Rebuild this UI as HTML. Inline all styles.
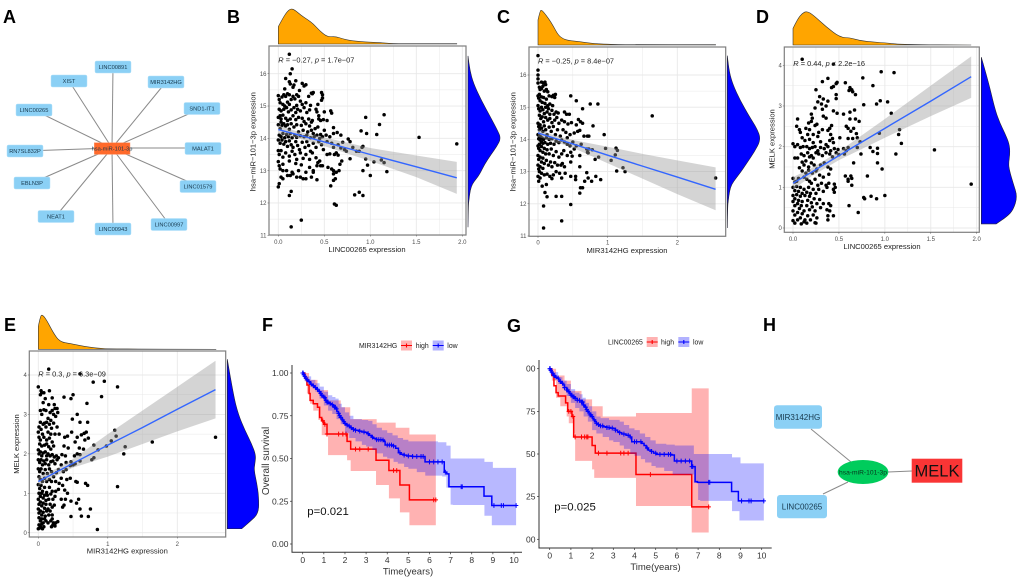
<!DOCTYPE html>
<html lang="en">
<head>
<meta charset="utf-8">
<title>miR-101-3p correlation and survival figure</title>
<style>
html,body{margin:0;padding:0;background:#fff;width:1020px;height:578px;overflow:hidden}
svg{display:block;font-family:"Liberation Sans",sans-serif;filter:blur(.3px)}
.letter{font-size:18px;font-weight:700;fill:#000}
.node{fill:#8bd0f5;stroke:#b5e2fa;stroke-width:.5}
.ntext{font-size:5.7px;fill:#17384d;text-anchor:middle}
.edge{stroke:#8a8a8a;stroke-width:1}
</style>
</head>
<body>
<svg id="figure" xmlns="http://www.w3.org/2000/svg" width="1020" height="578" viewBox="0 0 1020 578">
<rect x="0" y="0" width="1020" height="578" fill="#fff"/>
<text class="letter" x="3" y="23">A</text>
<text class="letter" x="227" y="23">B</text>
<text class="letter" x="497" y="23">C</text>
<text class="letter" x="756" y="23">D</text>
<text class="letter" x="4" y="331">E</text>
<text class="letter" x="262" y="331">F</text>
<text class="letter" x="507" y="332">G</text>
<text class="letter" x="763" y="331">H</text>

<g>
<g>
<line class="edge" x1="112" y1="148" x2="113" y2="67"/>
<line class="edge" x1="112" y1="148" x2="69" y2="81"/>
<line class="edge" x1="112" y1="148" x2="166" y2="82"/>
<line class="edge" x1="112" y1="148" x2="202" y2="108"/>
<line class="edge" x1="112" y1="148" x2="34" y2="110"/>
<line class="edge" x1="112" y1="148" x2="25" y2="151"/>
<line class="edge" x1="112" y1="148" x2="203" y2="148"/>
<line class="edge" x1="112" y1="148" x2="32" y2="183"/>
<line class="edge" x1="112" y1="148" x2="198" y2="186"/>
<line class="edge" x1="112" y1="148" x2="56" y2="216"/>
<line class="edge" x1="112" y1="148" x2="169" y2="224"/>
<line class="edge" x1="112" y1="148" x2="113" y2="229"/>
</g>
<g><rect class="node" x="95" y="61" width="36" height="12" rx="1.5"/><text class="ntext" x="113" y="69">LINC00891</text></g>
<g><rect class="node" x="51" y="75" width="36" height="12" rx="1.5"/><text class="ntext" x="69" y="83">XIST</text></g>
<g><rect class="node" x="148" y="76" width="36" height="12" rx="1.5"/><text class="ntext" x="166" y="84">MIR3142HG</text></g>
<g><rect class="node" x="184" y="102.5" width="36" height="12" rx="1.5"/><text class="ntext" x="202" y="110.5">SND1-IT1</text></g>
<g><rect class="node" x="16" y="104" width="36" height="12" rx="1.5"/><text class="ntext" x="34" y="112">LINC00265</text></g>
<g><rect class="node" x="7" y="145" width="36" height="12" rx="1.5"/><text class="ntext" x="25" y="153">RN7SL832P</text></g>
<g><rect class="node" x="185" y="142.5" width="36" height="12" rx="1.5"/><text class="ntext" x="203" y="150.5">MALAT1</text></g>
<g><rect class="node" x="14" y="177" width="36" height="12" rx="1.5"/><text class="ntext" x="32" y="185">EBLN3P</text></g>
<g><rect class="node" x="180" y="180.5" width="36" height="12" rx="1.5"/><text class="ntext" x="198" y="188.5">LINC01579</text></g>
<g><rect class="node" x="38" y="210.5" width="36" height="12" rx="1.5"/><text class="ntext" x="56" y="218.5">NEAT1</text></g>
<g><rect class="node" x="151" y="218.5" width="36" height="12" rx="1.5"/><text class="ntext" x="169" y="226.5">LINC00997</text></g>
<g><rect class="node" x="95" y="223" width="36" height="12" rx="1.5"/><text class="ntext" x="113" y="231">LINC00943</text></g>
<g><rect x="94.3" y="142.7" width="35.7" height="11.7" fill="#ff6a2b" stroke="#ff9a70" stroke-width=".5"/><text class="ntext" x="112" y="150.5">hsa-miR-101-3p</text></g>
</g>

<g>
<line class="edge" x1="811" y1="429" x2="851" y2="462"/>
<line class="edge" x1="823" y1="494" x2="848" y2="482"/>
<line class="edge" x1="888" y1="472" x2="912" y2="471"/>
<g><rect x="774" y="405.3" width="48" height="23.4" rx="3" fill="#8bd0f5"/><text x="798" y="420" font-size="8" text-anchor="middle" fill="#17384d">MIR3142HG</text></g>
<g><rect x="777" y="495" width="50" height="23.3" rx="3" fill="#8bd0f5"/><text x="802" y="509.5" font-size="8" text-anchor="middle" fill="#17384d">LINC00265</text></g>
<g><ellipse cx="863" cy="472" rx="25.3" ry="12" fill="#00cc5c"/><text x="863" y="474.5" font-size="6.7" text-anchor="middle" fill="#06351d">hsa-miR-101-3p</text></g>
<g><rect x="911.7" y="458.7" width="50.6" height="24" fill="#f93535"/><text x="937" y="476.5" font-size="16.5" text-anchor="middle" fill="#111">MELK</text></g>
</g>
</svg>

<script>
// ---------- scatter data ----------
const ticksMir = [11, 12, 13, 14, 15, 16];
const ticksMelk = [0, 1, 2, 3, 4];
const ticksLinc = ['0.0', '0.5', '1.0', '1.5', '2.0'];
const ticksHg = ['0', '1', '2'];

const pointsB = [[.12,16.6],[.13,16],[.15,16.15],[.08,15.85],[.12,15.75],[.13,15.68],[.19,15.78],[.17,15.65],[.26,15.7],[.28,15.62],[.3,15.66],[.07,15.53],[.16,15.58],[.23,15.48],
[0,15.32],[.01,15.2],[.02,15.1],[.04,15.28],[.06,15.35],[.08,15.3],[.1,15.38],[.12,15.35],[.14,15.2],[.16,15.3],[.18,15.22],[.2,15.35],[.22,15.3],[.24,15.15],[.33,15.3],[.36,15.4],[.37,15.38],[.38,15.42],[.47,15.42],[.48,15.35],[.48,15.25],[.47,15.18],[.3,15.1],[.26,15.05],[.12,15.05],[.05,15.05],[.07,15],[.1,15.12],[.35,15.02],[.43,15.05],[.2,15.02],
[.01,14.9],[.03,14.85],[.06,14.9],[.09,14.95],[.11,14.82],[.14,14.88],[.17,14.95],[.19,14.8],[.21,14.9],[.24,14.85],[.28,14.95],[.31,14.8],[.34,14.88],[.41,14.9],[.42,14.82],[.44,14.7],[.02,14.7],[0,14.65],[.03,14.6],[.05,14.72],[.08,14.62],[.1,14.55],[.13,14.6],[.16,14.7],[.19,14.58],[.22,14.65],[.26,14.62],[.28,14.52],[.33,14.6],[.37,14.55],[.44,14.6],[.46,14.55],[.49,14.58],[.03,14.5],[.36,14.5],
[0,14.42],[.02,14.3],[.04,14.4],[.06,14.45],[.08,14.38],[.1,14.42],[.12,14.28],[.14,14.45],[.17,14.35],[.2,14.42],[.22,14.2],[.25,14.4],[.27,14.25],[.3,14.45],[.32,14.2],[.34,14.38],[.36,14.25],[.38,14.15],[.4,14.3],[.43,14.35],[.46,14.12],[.5,14.25],[.52,14.1],[.56,14.05],[.6,14.15],[.64,14.18],[.68,14.1],[.01,14.1],[.03,14.05],[.05,14.15],[.07,14.02],[.09,14.12],[.11,14.05],[.13,14.15],[.15,14.02],[.18,14.1],[.2,14.03],[.24,14.08],[.28,14.05],[.31,14.1],[.35,14.02],[.39,14.05],[.42,14.1],[.45,14],[.48,14.05],
[0,13.95],[.02,13.85],[.04,13.95],[.06,13.82],[.08,13.9],[.1,13.75],[.12,13.92],[.14,13.8],[.16,13.72],[.19,13.9],[.21,13.78],[.23,13.65],[.26,13.88],[.29,13.72],[.31,13.9],[.33,13.78],[.35,13.6],[.38,13.85],[.41,13.72],[.44,13.9],[.47,13.8],[.49,13.65],[.53,13.9],[.58,13.85],[.6,13.72],[.65,13.8],[.7,13.88],[.72,13.65],[.74,13.6],[.76,13.98],[.78,13.9],[.81,13.72],[.85,13.6],[.68,13.7],[.63,13.55],[.56,13.52],[.53,13.5],
[0,13.62],[.01,13.5],[.03,13.62],[.05,13.42],[.08,13.55],[.12,13.45],[.15,13.6],[.18,13.5],[.2,13.35],[.24,13.55],[.27,13.38],[.3,13.5],[.34,13.35],[.37,13.55],[.41,13.4],[.43,13.25],[.45,13.3],[.65,13.48],[.61,13.5],[.78,13.37],[.69,13.3],[.67,13.2],
[0,13.28],[.01,13.15],[.02,13.05],[.05,13.2],[.09,13],[.12,13.3],[.15,12.95],[.19,13.22],[.22,13],[.25,13.18],[.3,12.95],[.34,13.1],[.38,13],[.42,13.15],[.46,13.15],[.48,13.15],[.54,13.1],[.6,13],[.6,12.9],[.63,12.95],[.66,13],[.58,13.05],[.62,12.75],[.6,12.7],[.1,12.85],[.13,12.85],[.16,12.9],[.2,12.8],[.24,12.8],[.27,12.75],[.3,12.75],[.36,12.8],[.38,12.95],[.42,12.72],[.05,12.75],[.03,12.8],[.05,13],
[0,12.5],[.01,12.6],[.14,12.36],[.12,12.23],[.25,11.47],[.14,11.26],[.57,12.53],[.61,11.97],[.63,11.93],[.83,12.25],[.88,12.33],[.92,12.23],[.57,14.85],[.58,14.78],[.6,14.33],[.53,14.55],[.5,14.82],
[1.94,13.83],[1.53,14.03],[1.15,14.73],[1.1,14.43],[.95,14.65],[.96,14.15],[1.07,14.12],[.9,14.23],[.92,13.75],[.91,13.72],[.88,13.6],[.95,13.36],[.97,13.17],[.92,13],[1,12.85],[1.04,13.27],[1.12,13.33],[1.15,13.25],[1.18,12.97]];

const pointsC = [[0,16.6],[0,16.15],[0,16],[0,15.88],[0,15.75],[.05,15.78],[.08,15.75],[.1,15.78],[.11,15.7],[.07,15.65],[.02,15.62],[.05,15.58],[.03,15.55],[.12,15.55],[.14,15.48],[.09,15.5],
[0,15.35],[.01,15.28],[.02,15.4],[.03,15.2],[.05,15.32],[.06,15.15],[.08,15.3],[.1,15.12],[.12,15.25],[.16,15.35],[.2,15.33],[.22,15.37],[.25,15.4],[.24,15.3],[.47,15.35],[.55,15.2],[.75,15.1],[.86,15.1],[.64,14.95],[.14,15.05],[.17,15.1],[.21,15.05],
[0,15.05],[.01,14.95],[.03,14.88],[.05,15],[.07,14.92],[.09,14.8],[.11,15],[.13,14.85],[.15,14.95],[.17,14.78],[.2,14.9],[.23,14.78],[.26,14.85],[.29,14.82],[.38,14.85],[.41,14.78],[.45,14.78],[.02,14.75],[.04,14.65],[.06,14.7],[.08,14.55],[.11,14.68],[.14,14.6],[.17,14.65],[.2,14.52],[.24,14.6],[.27,14.68],[.3,14.5],[.34,14.6],[.38,14.55],[.43,14.48],[.48,14.52],[.55,14.45],[.58,14.62],[.61,14.55],[.64,14.5],[.79,14.42],
[0,14.5],[.01,14.4],[.02,14.3],[.03,14.45],[.05,14.35],[.07,14.25],[.09,14.42],[.11,14.3],[.13,14.15],[.16,14.38],[.19,14.25],[.22,14.4],[.25,14.15],[.28,14.3],[.32,14.1],[.36,14.3],[.4,14.22],[.42,14.05],[.46,14.15],[.52,14.2],[.57,14.25],[.6,14.28],[.66,14.1],[.71,14.1],[.73,14.1],[.95,14.15],
[0,14.15],[.01,14.02],[.02,14.1],[.03,13.98],[.04,14.08],[.05,13.92],[.06,14.04],[.07,13.88],[.08,14],[.1,13.9],[.12,14.05],[.14,13.85],[.16,14],[.18,13.88],[.2,14.02],[.23,13.85],[.26,13.95],[.3,13.9],[.34,13.98],[.38,13.92],[.42,13.85],[.46,13.8],[.5,13.92],[.55,13.8],[.62,13.85],[.7,13.7],[.73,13.7],[.78,13.68],[.97,13.72],[1.12,13.73],[1.14,13.66],[1.11,13.52],[.71,13.6],[.72,13.58],
[0,13.8],[.01,13.72],[.02,13.85],[.03,13.65],[.05,13.78],[.07,13.6],[.09,13.72],[.11,13.55],[.13,13.68],[.16,13.55],[.19,13.7],[.22,13.5],[.26,13.62],[.3,13.45],[.34,13.55],[.37,13.65],[.42,13.5],[.47,13.6],[.52,13.7],[.6,13.5],[.87,13.45],[.82,13.38],[1.05,13.35],[.49,13.48],
[0,13.5],[.01,13.38],[.03,13.45],[.05,13.3],[.07,13.42],[.09,13.25],[.12,13.35],[.15,13.2],[.18,13.3],[.2,13.15],[.24,13.28],[.28,13.2],[.33,13.2],[.35,13.25],[.38,13.15],[.47,13.3],[.6,13.15],
[0,13.2],[.01,13.08],[.02,13],[.03,13.15],[.05,12.95],[.07,13.1],[.09,12.9],[.13,12.92],[.17,12.85],[.2,12.78],[.22,12.9],[.26,13],[.31,12.95],[.34,12.8],[.39,12.95],[.47,12.85],[.54,12.85],[.54,12.75],[.7,12.97],[.72,12.8],[.67,12.7],[.77,12.7],[.83,12.85],[.9,12.75],[1.13,13.02],[1.22,13.12],[1.25,13],
[0,12.85],[.01,12.7],[.03,12.8],[.06,12.55],[.1,12.35],[.12,12.6],[.13,12.22],[.26,12.23],[.34,12.23],[.6,12.33],[.61,12.5],[.64,12.5],[.47,11.98],[.08,11.93],[.34,11.47],[.08,11.25],[2.55,12.8],[1.64,14.73]];

const pointsD = [[.1,4.15],[.44,4.03],[.96,3.84],[1.1,3.82],[.76,3.69],[.38,3.68],[.32,3.6],[.48,3.58],[.47,3.55],[.57,3.57],[.87,3.5],[.44,3.48],[.25,3.4],[.62,3.45],[.61,3.38],[.64,3.4],[.65,3.35],[.42,3.45],[.29,3.23],[.47,3.28],[.68,3.28],[.47,3.18],[.33,3.17],[.95,3.13],[.91,3.05],[1.03,3.1],[.77,3.03],[.38,3.12],[.27,3.1],[.31,3.05],[.36,3],[.24,2.95],[.32,2.92],[.44,2.88],[.67,2.9],[.48,2.82],[.55,2.8],[.62,2.85],[1.07,2.82],[.2,2.8],[.21,2.7],[.33,2.75],[.36,2.7],[.05,2.68],[.62,2.68],[.68,2.68],[.72,2.62],[.2,2.62],[.17,2.58],[.26,2.55],[.24,2.52],[.42,2.52],[.4,2.45],[.58,2.5],[.6,2.45],[.66,2.45],[.63,2.38],[.69,2.32],[.38,2.4],[.32,2.42],[.18,2.42],[.14,2.45],[.04,2.5],[.07,2.42],[.08,2.35],[1.16,2.42],[.94,2.33],[1.15,2.3],[1.18,2.08],[.16,2.3],[.22,2.3],[.28,2.35],[.27,2.25],[.41,2.3],[.43,2.2],[.4,2.15],[.51,2.22],[.6,2.2],[.65,2.2],[.7,2.22],[.73,2.12],[.1,2.22],[.13,2.15],[.18,2.18],[.22,2.1],[.3,2.12],[.36,2.05],[.44,2.1],[0,2.07],[.02,2],[.05,2.05],[.08,1.98],[.11,2],[.15,2],[.18,1.95],[.21,1.98],[.24,2],[.27,1.9],[.3,1.98],[.34,1.95],[.38,2],[.41,1.9],[.45,1.95],[.49,1.93],[.55,1.95],[.58,1.9],[.6,1.98],[.7,1.98],[.84,1.98],[.92,1.96],[.87,1.88],[.92,1.83],[.74,1.82],[1.12,1.82],[1.54,1.92],[.02,1.72],[.05,1.72],[.09,1.82],[.12,1.78],[.16,1.85],[.18,1.75],[.2,1.78],[.22,1.72],[.25,1.85],[.28,1.82],[.32,1.78],[.36,1.85],[.4,1.82],[.43,1.75],[.47,1.85],[.5,1.8],[.56,1.82],[.66,1.6],[.92,1.6],[.97,1.45],[.1,1.62],[.12,1.55],[.14,1.65],[.17,1.5],[.2,1.6],[.23,1.55],[.26,1.45],[.3,1.55],[.34,1.6],[.38,1.5],[.41,1.45],[.07,1.48],[.1,1.4],[.14,1.35],[.17,1.42],[.21,1.35],[.25,1.4],[.29,1.3],[.33,1.25],[.39,1.32],[.57,1.28],[.63,1.28],[.6,1.2],[.64,1.22],[.6,1.15],[.81,1.28],[0,1.22],[.02,1.13],[.04,1.15],[.06,1.22],[.12,1.25],[.15,1.2],[.18,1.15],[.2,1.1],[.24,1.2],[.27,1.05],[.31,1.1],[.36,1.05],[.39,1.1],[.45,1.08],[.46,1],[.64,1.05],[1.94,1.08],[0,1],[.02,.92],[.04,1.02],[.06,.9],[.08,1],[.1,.85],[.12,.95],[.15,.88],[.17,1],[.19,.85],[.22,.95],[.25,.85],[.28,.95],[.33,.9],[.37,1],[.44,.95],[.45,.88],[0,.8],[.02,.72],[.04,.82],[.06,.68],[.08,.78],[.1,.65],[.13,.8],[.16,.68],[.18,.78],[.2,.62],[.23,.72],[.26,.6],[.29,.7],[.33,.6],[.39,.6],[.41,.55],[.78,.72],[.77,.75],[.85,.78],[.91,.72],[1,.8],[0,.65],[.02,.55],[.05,.6],[.07,.48],[.09,.55],[.12,.42],[.15,.55],[.18,.45],[.21,.52],[.24,.42],[.3,.5],[.37,.45],[.4,.42],[.61,.55],[.71,.38],[0,.42],[.02,.32],[.05,.38],[.08,.25],[.1,.35],[.13,.2],[.16,.3],[.19,.2],[.22,.32],[.26,.25],[.38,.3],[.38,.2],[.44,.3],[0,.18],[.02,.12],[.05,.2],[.09,.1],[.12,.15],[.15,.12],[.24,.13],[.25,.12]];

const pointsE = [[.15,4.15],[.6,4.03],[.95,3.84],[.79,3.82],[1.14,3.7],[0,3.7],[.04,3.6],[.05,3.55],[.16,3.6],[.03,3.5],[.08,3.55],[.5,3.5],[.37,3.44],[.47,3.4],[.91,3.45],[.1,3.4],[.2,3.42],[.7,3.28],[.23,3.25],[.07,3.3],[.15,3.25],[.08,3.12],[.03,3.1],[.11,3.1],[.24,3.15],[.27,3.15],[.2,3.1],[.28,3.05],[.17,3.05],[.22,3],[.56,3],[.25,2.95],[.05,3],[.49,2.88],[.14,2.9],[.18,2.85],[.12,2.8],[.03,2.8],[.07,2.75],[.09,2.78],[.16,2.75],[.22,2.78],[.6,2.8],[.71,2.8],[.01,2.68],[.04,2.62],[.11,2.68],[.19,2.65],[.27,2.68],[.48,2.55],[0,2.55],[.06,2.5],[.14,2.55],[.18,2.5],[.24,2.5],[.3,2.5],[.56,2.42],[.62,2.48],[.66,2.52],[.69,2.55],[.72,2.4],[1.1,2.6],[1.12,2.45],[.01,2.42],[.03,2.35],[.08,2.42],[.12,2.35],[.16,2.4],[.2,2.3],[.38,2.42],[.42,2.45],[.53,2.3],[.67,2.35],[.8,2.22],[.98,2.2],[1.05,2.33],[1.25,2.18],[2.55,2.42],[1.64,2.3],[.02,2.25],[.05,2.2],[.09,2.22],[.12,2.25],[.15,2.18],[.18,2.12],[.22,2.2],[.37,2.2],[.43,2.15],[.59,2.15],[.65,2.12],[.86,2.1],[0,2.1],[.01,2],[.03,2.05],[.05,1.95],[.07,2.02],[.1,2.05],[.12,1.95],[.14,2],[.17,1.95],[.2,1.98],[.23,1.92],[.26,1.95],[.29,1.9],[.34,1.98],[.39,1.95],[.47,1.8],[.52,1.95],[.56,2],[.6,1.98],[.77,1.85],[.8,1.9],[1.23,2],[0,1.85],[.02,1.78],[.04,1.85],[.06,1.72],[.08,1.82],[.1,1.75],[.12,1.85],[.15,1.72],[.18,1.8],[.21,1.82],[.24,1.75],[.27,1.85],[.33,1.72],[.4,1.78],[.46,1.7],[.5,1.72],[.53,1.75],[.6,1.82],[0,1.62],[.02,1.55],[.04,1.62],[.07,1.5],[.1,1.6],[.13,1.5],[.16,1.62],[.19,1.55],[.22,1.42],[.26,1.52],[.29,1.6],[.36,1.55],[.4,1.6],[.01,1.42],[.03,1.35],[.06,1.3],[.09,1.38],[.12,1.3],[.16,1.35],[.19,1.3],[.25,1.3],[.3,1.25],[.33,1.38],[.41,1.35],[.46,1.38],[.54,1.3],[.56,1.28],[.68,1.25],[.71,1.2],[1.14,1.17],[0,1.22],[.02,1.12],[.04,1.2],[.06,1.05],[.09,1.15],[.12,1.02],[.16,1.15],[.2,1.05],[.25,1.05],[.29,1.1],[.35,1.2],[.38,1.08],[.42,1],[.01,1],[.03,.92],[.05,1],[.07,.88],[.09,.95],[.11,.82],[.13,.95],[.15,.85],[.18,.98],[.21,.85],[.24,.92],[.33,.85],[.39,.85],[.47,.8],[.55,.75],[.58,.85],[0,.85],[.01,.72],[.03,.78],[.05,.68],[.07,.75],[.09,.62],[.11,.72],[.14,.6],[.17,.72],[.2,.65],[.23,.7],[.35,.65],[.37,.7],[.6,.6],[.75,.6],[0,.6],[.01,.5],[.03,.55],[.05,.45],[.07,.52],[.1,.42],[.12,.55],[.15,.45],[.17,.55],[.2,.45],[.47,.41],[.62,.42],[.72,.41],[.01,.38],[.03,.3],[.05,.35],[.07,.25],[.09,.35],[.11,.3],[.14,.25],[.18,.3],[.2,.35],[.22,.25],[.25,.25],[.28,.28],[.01,.2],[.03,.15],[.05,.22],[.08,.15],[.19,.15],[.21,.2],[.24,.17],[0,.1],[.02,.12],[.06,.1],[.85,.08]];

// ---------- regression fits ----------
const fitXB = [0, .2, .5, 1, 1.5, 1.94];
const fitYB = [14.27, 14.12, 13.89, 13.5, 13.12, 12.78];
const fitUpB = [14.4, 14.22, 14.03, 13.7, 13.47, 13.27];
const fitLoB = [14.14, 14.02, 13.76, 13.3, 12.8, 12.28];
const fitXC = [0, .2, .5, 1, 1.5, 2, 2.55];
const fitYC = [14.2, 14.06, 13.86, 13.51, 13.17, 12.83, 12.45];
const fitUpC = [14.32, 14.15, 13.98, 13.77, 13.55, 13.35, 13.13];
const fitLoC = [14.08, 13.96, 13.74, 13.26, 12.78, 12.3, 11.8];
const fitXD = [0, .2, .5, 1, 1.5, 1.94];
const fitYD = [1.1, 1.37, 1.78, 2.45, 3.12, 3.72];
const fitUpD = [1.25, 1.47, 1.88, 2.68, 3.5, 4.22];
const fitLoD = [.95, 1.27, 1.67, 2.22, 2.75, 3.2];
const fitXE = [0, .25, .5, 1, 1.5, 2, 2.55];
const fitYE = [1.3, 1.53, 1.76, 2.22, 2.67, 3.13, 3.63];
const fitUpE = [1.42, 1.62, 1.87, 2.5, 3.1, 3.7, 4.36];
const fitLoE = [1.18, 1.44, 1.65, 1.93, 2.25, 2.57, 2.9];

// ---------- marginal densities (value, relative height) ----------
const topDensB = [[0,.5],[.05,.75],[.1,.95],[.14,1.02],[.18,.98],[.25,.82],[.32,.7],[.38,.58],[.45,.38],[.52,.23],[.57,.21],[.63,.21],[.7,.15],[.78,.1],[.9,.07],[1,.05],[1.12,.04],[1.25,.01],[1.6,.01],[1.94,.01]];
const rightDensB = [[11.25,0],[11.9,.01],[12.1,.03],[12.4,.07],[12.6,.14],[12.75,.26],[12.9,.37],[13.2,.52],[13.5,.72],[13.75,.9],[14,1.03],[14.25,.92],[14.66,.7],[15.17,.42],[15.7,.17],[16.1,.06],[16.55,0]];
const topDensC = [[0,.73],[.03,1],[.05,1.02],[.08,.96],[.15,.78],[.22,.55],[.29,.29],[.36,.18],[.44,.13],[.6,.1],[.75,.05],[1,.02],[1.3,.01],[2.55,.01]];
const rightDensC = [[11.25,0],[11.9,.01],[12.1,.03],[12.4,.07],[12.6,.13],[12.8,.27],[13,.42],[13.3,.62],[13.6,.82],[14,1.03],[14.35,.9],[14.7,.68],[15.2,.4],[15.7,.17],[16.1,.06],[16.6,0]];
const topDensD = [[0,.5],[.05,.78],[.1,.95],[.15,1.02],[.22,.9],[.36,.55],[.51,.23],[.62,.22],[.73,.13],[.87,.09],[1.02,.06],[1.2,.01],[1.94,0]];
const rightDensD = [[4.2,0],[3.6,.2],[2.9,.39],[2.57,.53],[2.32,.67],[2.07,.79],[1.84,.81],[1.59,.77],[1.43,.79],[1.1,.9],[.77,1.02],[.44,.9],[.28,.72],[.1,.42]];
const topDensE = [[0,.67],[.03,.98],[.06,1.02],[.12,.86],[.22,.47],[.31,.22],[.46,.17],[.6,.11],[.84,.03],[1.08,.01],[2.56,0]];
const rightDensE = [[4.4,0],[3.5,.19],[3,.35],[2.6,.56],[2.26,.77],[1.97,.91],[1.76,.88],[1.59,.85],[1.25,.94],[.92,1],[.49,1],[.28,.72],[.1,.46]];

// ---------- survival data ----------
const survTicks = [1, .75, .5, .25, 0];
const survLabelsF = ['1.00', '0.75', '0.50', '0.25', '0.00'];
const survLabelsG = ['00', '75', '50', '25', '00'];
const timeTicks = [0, 1, 2, 3, 4, 5, 6, 7, 8, 9, 10];

const fHighT = [0, .1, .2, .3, .35, .5, .7, .8, .9, 1, 1.15, 2.1, 2.27, 3.47, 4.08, 4.6, 5.05, 6.3];
const fHighS = [1, .97, .93, .88, .84, .82, .8, .74, .72, .7, .643, .6, .555, .49, .43, .345, .258, .258];
const fHighUpT = [0, .3, .7, 1.2, 1.8, 2.25, 3.5, 4.4, 5.05, 6.3];
const fHighUpS = [1, .96, .9, .84, .8, .73, .71, .68, .64, .595];
const fHighLoT = [0, .1, .2, .35, .5, .74, .9, 1.2, 2.1, 2.27, 3.47, 4.08, 4.6, 5.05, 6.3];
const fHighLoS = [1, .95, .88, .82, .78, .725, .637, .52, .49, .427, .345, .267, .185, .11, .11];
const fHighCens = [.95, 1.05, 1.15, 1.7, 1.9, 2.05, 2.5, 2.7, 3.1, 4.3, 4.45, 6.2, 6.3];

const fLowT = [0,.04,.08,.13,.19,.25,.32,.38,.43,.5,.56,.62,.66,.72,.78,.84,.9,.96,1.02,1.08,1.14,1.22,1.3,1.38,1.45,1.5,1.56,1.62,1.69,1.74,1.8,1.86,1.92,1.98,2.04,2.1,2.16,2.24,2.32,2.4,2.5,2.65,2.8,2.95,3.05,3.15,3.25,3.34,3.5,3.74,3.85,3.9,4.29,4.4,4.53,4.65,4.8,4.92,5.2,5.79,6.7,6.82,6.92,7,8.58,8.95,10.1];
const fLowS = [1,.99,.98,.97,.96,.95,.945,.935,.93,.925,.915,.91,.905,.895,.89,.88,.87,.86,.855,.84,.83,.825,.82,.815,.807,.8,.79,.775,.764,.75,.74,.725,.715,.705,.7,.695,.69,.68,.675,.67,.665,.66,.655,.653,.645,.635,.625,.618,.61,.608,.6,.579,.573,.56,.534,.525,.52,.515,.512,.48,.42,.41,.335,.335,.28,.225,.225];
const fLowUpT = [0,.2,.4,.6,.8,1,1.2,1.4,1.55,1.7,1.85,2,2.2,2.4,2.8,3.1,3.3,3.5,3.75,4,4.25,4.5,4.75,5,5.5,6.4,6.8,7,8.6,9,10.1];
const fLowUpS = [1,.98,.96,.94,.92,.89,.87,.86,.85,.82,.8,.77,.75,.73,.725,.72,.7,.68,.665,.65,.635,.62,.61,.6,.6,.595,.575,.5,.48,.445,.445];
const fLowLoT = [0,.2,.4,.6,.8,1,1.2,1.4,1.6,1.8,2,2.2,2.5,2.8,3,3.3,3.5,3.8,4,4.3,4.5,4.8,5,5.4,5.8,6.6,6.8,7,7.1,8.6,8.95,10.1];
const fLowLoS = [1,.95,.92,.89,.85,.81,.78,.76,.73,.7,.65,.62,.6,.58,.57,.55,.53,.51,.5,.48,.47,.45,.44,.42,.4,.395,.33,.23,.228,.165,.11,.11];
const fLowCens = [0,.02,.05,.1,.15,.2,.3,.4,.5,.6,.7,.8,.85,.9,1,1.05,1.1,1.15,1.2,1.3,1.4,1.5,1.55,1.6,1.7,1.75,1.8,1.9,1.95,2,2.1,2.2,2.3,2.4,2.5,2.7,2.9,3.1,3.3,3.5,3.6,3.7,3.8,4,4.1,4.2,4.3,4.6,4.8,5,5.2,5.4,5.6,5.7,6,6.2,6.4,6.6,6.75,7.5,7.55,9.05,9.4,9.5,10.1];

const gHighT = [0, .1, .2, .3, .4, .75, .85, 1.05, 1.13, 2, 2.15, 4.07, 6.7, 7.5];
const gHighS = [1, .96, .9, .86, .84, .8, .75, .72, .6, .55, .505, .38, .19, .19];
const gHighUpT = [0, .3, .7, 1, 1.5, 2, 2.5, 4.07, 6.7, 7.5];
const gHighUpS = [1, .96, .93, .87, .82, .78, .72, .74, .885, .885];
const gHighLoT = [0, .1, .3, .5, .8, .9, 1.1, 1.2, 2, 2.1, 4.07, 6.7, 7.5];
const gHighLoS = [1, .93, .83, .78, .72, .68, .62, .46, .41, .36, .195, .04, .04];
const gHighCens = [.9, 1, 1.1, 1.2, 1.5, 1.65, 1.75, 1.8, 2.3, 2.7, 3.35, 3.5, 3.7, 4.75, 7.5];

const gLowT = [0,.04,.08,.13,.19,.25,.32,.41,.48,.55,.62,.7,.8,.86,.94,1,1.08,1.2,1.3,1.42,1.59,1.65,1.72,1.78,1.84,1.9,1.96,2.02,2.08,2.14,2.2,2.28,2.36,2.53,2.7,2.85,3,3.1,3.2,3.3,3.4,3.6,3.79,3.87,4.34,4.45,4.55,4.65,4.8,4.9,5.05,5.75,5.88,6.7,6.86,6.97,8.58,8.9,10.1];
const gLowS = [1,.99,.98,.97,.96,.95,.945,.934,.925,.915,.905,.89,.875,.865,.855,.845,.835,.826,.815,.805,.787,.775,.76,.75,.74,.729,.72,.71,.7,.69,.68,.672,.665,.66,.655,.652,.65,.64,.63,.625,.617,.61,.6,.572,.5625,.55,.535,.523,.515,.505,.498,.494,.459,.426,.338,.334,.28,.225,.225];
const gLowUpT = [0,.2,.4,.6,.8,1,1.2,1.4,1.55,1.7,1.85,2,2.2,2.4,2.8,3.1,3.3,3.5,3.75,4,4.25,4.5,4.75,5,5.5,5.9,6.8,7,8.6,9,10.1];
const gLowUpS = [1,.98,.95,.93,.91,.88,.86,.85,.83,.8,.78,.75,.72,.71,.7,.7,.69,.67,.65,.64,.62,.6,.58,.56,.555,.55,.5,.5,.48,.445,.445];
const gLowLoT = [0,.2,.4,.6,.8,1,1.2,1.4,1.6,1.8,2,2.2,2.5,2.8,3,3.3,3.5,3.8,4,4.3,4.5,4.8,5,5.4,5.8,6.8,7,7.1,8.6,8.95,10.1];
const gLowLoS = [1,.95,.91,.88,.84,.8,.77,.75,.72,.69,.64,.62,.6,.58,.57,.55,.53,.5,.49,.47,.45,.43,.42,.4,.38,.33,.23,.225,.165,.11,.11];
const gLowCens = [0,.02,.05,.1,.15,.2,.3,.4,.5,.6,.7,.8,.85,.9,1,1.05,1.1,1.15,1.2,1.3,1.4,1.5,1.55,1.6,1.7,1.75,1.8,1.9,1.95,2,2.1,2.2,2.3,2.4,2.5,2.7,2.8,2.95,3.1,3.3,3.5,3.7,3.8,4,4.1,4.3,4.6,4.8,5,5.2,5.4,5.6,5.7,6,6.2,6.4,6.6,6.7,6.75,7.5,7.55,9.05,9.4,9.5,10.1];

// ---------- helpers ----------
const NS = 'http://www.w3.org/2000/svg';
const root = document.getElementById('figure');
function add(parent, tag, attrs, text) {
  const el = document.createElementNS(NS, tag);
  for (const k in attrs) el.setAttribute(k, attrs[k]);
  if (text !== undefined) el.textContent = text;
  parent.appendChild(el);
  return el;
}
function scale(d0, d1, p0, p1) {
  return v => p0 + (v - d0) * (p1 - p0) / (d1 - d0);
}
function line(arr) {
  return arr.map((q, i) => (i ? 'L' : 'M') + q[0].toFixed(2) + ' ' + q[1].toFixed(2)).join('');
}
function smooth(arr) {
  let d = 'M' + arr[0][0].toFixed(2) + ' ' + arr[0][1].toFixed(2);
  for (let i = 1; i < arr.length - 1; i++) {
    const mx = (arr[i][0] + arr[i + 1][0]) / 2, my = (arr[i][1] + arr[i + 1][1]) / 2;
    d += 'Q' + arr[i][0].toFixed(2) + ' ' + arr[i][1].toFixed(2) + ' ' + mx.toFixed(2) + ' ' + my.toFixed(2);
  }
  const e = arr[arr.length - 1];
  return d + 'L' + e[0].toFixed(2) + ' ' + e[1].toFixed(2);
}

// ---------- scatter panels ----------
function drawScatter(p) {
  const x = p.x, y = p.y;
  const g = add(root, 'g', {});
  
  

  // top density
  const topPts = p.topDens.map(d => [x(d[0]), p.topBase - d[1] * p.topH]);
  const last = p.topDens[p.topDens.length - 1][0], first = p.topDens[0][0];
  const top = add(g, 'path', {d: smooth(topPts) + 'L' + x(last) + ' ' + p.topBase + 'L' + x(first) + ' ' + p.topBase + 'Z', fill: '#ffa500', stroke: '#333', 'stroke-width': .6});
  
  

  // right density
  const rPts = p.rightDens.map(d => [p.rightBase + d[1] * p.rightW, y(d[0])]);
  const rFirst = y(p.rightDens[0][0]), rLast = y(p.rightDens[p.rightDens.length - 1][0]);
  const right = add(g, 'path', {d: smooth(rPts) + 'L' + p.rightBase + ' ' + rLast + 'L' + p.rightBase + ' ' + rFirst + 'Z', fill: '#0000ff', stroke: '#223', 'stroke-width': .6});
  
  

  // panel + grid
  const b = p.box;
  const bg = add(g, 'rect', {x: b[0], y: b[1], width: b[2] - b[0], height: b[3] - b[1], fill: '#fff'});
  
  
  const xv = p.xTicks.map(Number), yv = p.yTicks;
  function grid(x1, y1, x2, y2, w) {
    const l = add(g, 'line', {x1: x1, y1: y1, x2: x2, y2: y2, stroke: '#e8e8e8', 'stroke-width': w});
    
    
  }
  xv.forEach((v, i) => {
    grid(x(v), b[1], x(v), b[3], .9);
    if (i) grid(x((v + xv[i - 1]) / 2), b[1], x((v + xv[i - 1]) / 2), b[3], .5);
  });
  yv.forEach((v, i) => {
    grid(b[0], y(v), b[2], y(v), .9);
    if (i) grid(b[0], y((v + yv[i - 1]) / 2), b[2], y((v + yv[i - 1]) / 2), .5);
  });

  // points
  p.points.forEach(q => {
    const c = add(g, 'circle', {cx: x(q[0]).toFixed(2), cy: y(q[1]).toFixed(2), r: 1.75, fill: '#000'});
    
    
  });

  // confidence band + fit
  const up = p.fitX.map((v, i) => [x(v), y(p.fitUp[i])]);
  const lo = p.fitX.map((v, i) => [x(v), y(p.fitLo[i])]).reverse();
  const band = add(g, 'path', {d: line(up.concat(lo)) + 'Z', fill: '#999', 'fill-opacity': .42});
  
  
  const fit = add(g, 'path', {d: line(p.fitX.map((v, i) => [x(v), y(p.fitY[i])])), fill: 'none', stroke: '#3366ff', 'stroke-width': 1.4});
  
  

  // border
  const border = add(g, 'rect', {x: b[0], y: b[1], width: b[2] - b[0], height: b[3] - b[1], fill: 'none', stroke: '#7f7f7f', 'stroke-width': 1.2});
  
  

  // ticks
  p.xTicks.forEach(t => {
    const m = add(g, 'line', {x1: x(+t), x2: x(+t), y1: b[3], y2: b[3] + 1.5, stroke: '#555', 'stroke-width': .5});
    
    
    const l = add(g, 'text', {x: x(+t), y: p.xTickY, 'font-size': 6, fill: '#4d4d4d', 'text-anchor': 'middle'}, t);
    
    
  });
  p.yTicks.forEach(t => {
    const m = add(g, 'line', {x1: b[0] - 1.5, x2: b[0], y1: y(t), y2: y(t), stroke: '#555', 'stroke-width': .5});
    
    
    const l = add(g, 'text', {x: b[0] - 2.5, y: y(t) + 2.1, 'font-size': 6, fill: '#4d4d4d', 'text-anchor': 'end'}, t);
    
    
  });

  // titles
  const xt = add(g, 'text', {x: p.xTitlePos[0], y: p.xTitlePos[1], 'font-size': 7.6, fill: '#222', 'text-anchor': 'middle'}, p.xTitle);
  
  
  const yt = add(g, 'text', {transform: 'translate(' + p.yTitlePos[0] + ' ' + p.yTitlePos[1] + ') rotate(-90)', 'font-size': 7.6, fill: '#222', 'text-anchor': 'middle'}, p.yTitle);
  
  

  // annotation
  const an = add(g, 'text', {x: p.annPos[0], y: p.annPos[1], 'font-size': 7.4, fill: '#222'});
  
  
  add(an, 'tspan', {'font-style': 'italic'}, 'R');
  add(an, 'tspan', {}, ' = ' + p.r + ', ');
  add(an, 'tspan', {'font-style': 'italic'}, 'p');
  add(an, 'tspan', {}, ' ' + p.pText);
}

drawScatter({id: 'b', x: scale(0, 2, 278.3, 462.3), y: scale(11, 16, 235.3, 73.7), box: [269, 46, 466, 235], points: pointsB, fitX: fitXB, fitY: fitYB, fitUp: fitUpB, fitLo: fitLoB, topDens: topDensB, rightDens: rightDensB, topBase: 44, topH: 34.7, rightBase: 468, rightW: 32, xTicks: ticksLinc, yTicks: ticksMir, xTickY: 244, xTitle: 'LINC00265 expression', yTitle: 'hsa\u2212miR\u2212101\u22123p expression', xTitlePos: [367, 252], yTitlePos: [255.5, 141.7], r: '\u22120.27', pText: '= 1.7e\u221207', annPos: [278.3, 62.7]});
drawScatter({id: 'c', x: scale(0, 2, 538, 677.3), y: scale(11, 16, 236, 75), box: [529, 47, 725.7, 236.3], points: pointsC, fitX: fitXC, fitY: fitYC, fitUp: fitUpC, fitLo: fitLoC, topDens: topDensC, rightDens: rightDensC, topBase: 45, topH: 34.3, rightBase: 727.3, rightW: 32.7, xTicks: ticksHg, yTicks: ticksMir, xTickY: 244.5, xTitle: 'MIR3142HG expression', yTitle: 'hsa\u2212miR\u2212101\u22123p expression', xTitlePos: [627, 253], yTitlePos: [515.5, 141.7], r: '\u22120.25', pText: '= 8.4e\u221207', annPos: [538, 63.3]});
drawScatter({id: 'd', x: scale(0, 2, 793, 976.7), y: scale(0, 4, 228, 65.3), box: [784.3, 47, 979.3, 232.3], points: pointsD, fitX: fitXD, fitY: fitYD, fitUp: fitUpD, fitLo: fitLoD, topDens: topDensD, rightDens: rightDensD, topBase: 45, topH: 33.3, rightBase: 981.3, rightW: 35.4, xTicks: ticksLinc, yTicks: ticksMelk, xTickY: 241, xTitle: 'LINC00265 expression', yTitle: 'MELK expression', xTitlePos: [882, 249], yTitlePos: [774.5, 139], r: '0.44', pText: '< 2.2e\u221216', annPos: [793.3, 66]});
drawScatter({id: 'e', x: scale(0, 2, 38.3, 177.3), y: scale(0, 4, 532.7, 375), box: [29.3, 351, 225.7, 537], points: pointsE, fitX: fitXE, fitY: fitYE, fitUp: fitUpE, fitLo: fitLoE, topDens: topDensE, rightDens: rightDensE, topBase: 349.3, topH: 34, rightBase: 227.3, rightW: 31.4, xTicks: ticksHg, yTicks: ticksMelk, xTickY: 546, xTitle: 'MIR3142HG expression', yTitle: 'MELK expression', xTitlePos: [127.3, 553.5], yTitlePos: [19, 444], r: '0.3', pText: '= 6.3e\u221209', annPos: [38.3, 376.7]});

// ---------- survival panels ----------
function stepPts(ts, ss, x, y) {
  const out = [];
  ts.forEach((t, i) => {
    if (i) out.push([x(t), y(ss[i - 1])]);
    out.push([x(t), y(ss[i])]);
  });
  return out;
}
function survAt(ts, ss, t) {
  let s = ss[0];
  for (let i = 0; i < ts.length; i++) if (ts[i] <= t) s = ss[i];
  return s;
}
function drawCurve(g, x, y, c, color, fill, id) {
  const up = stepPts(c.upT, c.upS, x, y);
  const lo = stepPts(c.loT, c.loS, x, y).reverse();
  const band = add(g, 'path', {d: line(up.concat(lo)) + 'Z', fill: fill});
  
  
  const l = add(g, 'path', {d: line(stepPts(c.t, c.s, x, y)), fill: 'none', stroke: color, 'stroke-width': 1.5});
  
  
  c.cens.forEach(t => {
    const px = x(t), py = y(survAt(c.t, c.s, t));
    const m = add(g, 'path', {d: 'M' + (px - 2.2) + ' ' + py + 'h4.4M' + px + ' ' + (py - 2.4) + 'v4.8', stroke: color, 'stroke-width': 1, fill: 'none'});
    
    
  });
}
function drawSurvival(p) {
  const x = p.x, y = p.y;
  const g = add(root, 'g', {});
  
  

  // legend
  const lt = add(g, 'text', {x: p.legend[0], y: p.legend[1] + 2.4, 'font-size': 6.9, fill: '#222'}, p.legendTitle);
  
  
  [['high', '#ff0000', 'rgba(255,0,0,.3)', p.legend[2], p.legend[3]], ['low', '#0000ff', 'rgba(0,0,255,.3)', p.legend[4], p.legend[5]]].forEach(e => {
    const k = add(g, 'rect', {x: e[3], y: p.legend[1] - 5, width: 11, height: 10, fill: e[2]});
    
    
    const kl = add(g, 'path', {d: 'M' + e[3] + ' ' + p.legend[1] + 'h11M' + (e[3] + 5.5) + ' ' + (p.legend[1] - 2) + 'v4', stroke: e[1], 'stroke-width': 1.1});
    
    
    const tx = add(g, 'text', {x: e[4], y: p.legend[1] + 2.4, 'font-size': 6.9, fill: '#222'}, e[0]);
    
    
  });

  drawCurve(g, x, y, p.high, '#ff0000', 'rgba(255,0,0,.3)', 'high');
  drawCurve(g, x, y, p.low, '#0000ff', 'rgba(0,0,255,.28)', 'low');

  // axes
  const ax = add(g, 'path', {d: 'M' + p.axis[0] + ' ' + p.axis[1] + 'V' + p.axis[2] + 'H' + p.axis[3], fill: 'none', stroke: '#333', 'stroke-width': 1});
  
  
  timeTicks.forEach(t => {
    const m = add(g, 'line', {x1: x(t), x2: x(t), y1: p.axis[2], y2: p.axis[2] + 2, stroke: '#333', 'stroke-width': .7});
    
    
    const l = add(g, 'text', {x: x(t), y: p.axis[2] + 10.5, 'font-size': 8.5, fill: '#333', 'text-anchor': 'middle'}, t);
    
    
  });
  survTicks.forEach((s, i) => {
    const m = add(g, 'line', {x1: p.axis[0] - 2, x2: p.axis[0], y1: y(s), y2: y(s), stroke: '#333', 'stroke-width': .7});
    
    
    const l = add(g, 'text', {x: p.axis[0] - 3.5, y: y(s) + 3, 'font-size': 8.5, fill: '#333', 'text-anchor': 'end'}, p.yLabels[i]);
    
    
  });
  const xt = add(g, 'text', {x: p.xTitleX, y: p.axis[2] + 22, 'font-size': 9.5, fill: '#333', 'text-anchor': 'middle'}, 'Time(years)');
  
  
  const pv = add(g, 'text', {x: p.pPos[0], y: p.pPos[1], 'font-size': 11.4, fill: '#111'}, p.pText);
  
  
}

drawSurvival({id: 'f', x: scale(0, 10, 302.7, 514), y: scale(0, 1, 544, 373), legend: [359, 345.5, 401, 415.7, 432.7, 447.3], legendTitle: 'MIR3142HG', axis: [292, 365, 552.3, 522], yLabels: survLabelsF, xTitleX: 408, pPos: [307.3, 515], pText: 'p=0.021',
  high: {t: fHighT, s: fHighS, upT: fHighUpT, upS: fHighUpS, loT: fHighLoT, loS: fHighLoS, cens: fHighCens},
  low: {t: fLowT, s: fLowS, upT: fLowUpT, upS: fLowUpS, loT: fLowLoT, loS: fLowLoS, cens: fLowCens}});
drawSurvival({id: 'g', x: scale(0, 10, 549.7, 761.7), y: scale(0, 1, 539.3, 368.7), legend: [608, 342, 646.7, 661, 678.3, 693], legendTitle: 'LINC00265', axis: [539, 360, 548, 771.7], yLabels: survLabelsG, xTitleX: 655.5, pPos: [554.3, 510.3], pText: 'p=0.025',
  high: {t: gHighT, s: gHighS, upT: gHighUpT, upS: gHighUpS, loT: gHighLoT, loS: gHighLoS, cens: gHighCens},
  low: {t: gLowT, s: gLowS, upT: gLowUpT, upS: gLowUpS, loT: gLowLoT, loS: gLowLoS, cens: gLowCens}});

const ySurv = add(root, 'text', {transform: 'translate(269 461) rotate(-90)', 'font-size': 10, fill: '#333', 'text-anchor': 'middle'}, 'Overall survival');


</script>
</body>
</html>
